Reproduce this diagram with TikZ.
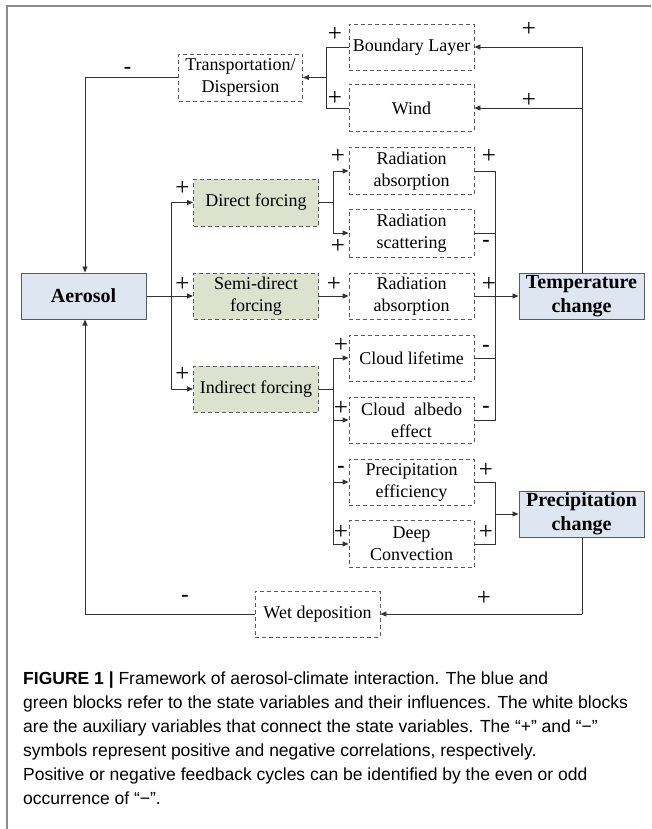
\documentclass[tikz,border=0pt]{standalone}
\usepackage{fontspec}
\setmainfont{Liberation Serif}
\newfontfamily\diafont{Liberation Serif}
\newfontfamily\capfont{Liberation Sans}
\usetikzlibrary{arrows.meta}
\definecolor{greenfill}{RGB}{220,226,206}
\definecolor{bluefill}{RGB}{222,230,241}
\definecolor{boxline}{RGB}{90,90,90}
\definecolor{conn}{RGB}{50,50,50}
\definecolor{framec}{RGB}{140,140,140}
\tikzset{
  base/.style={rectangle, minimum width=125pt, minimum height=46pt, inner sep=0pt, align=center,
    font=\diafont\fontsize{18}{22}\selectfont},
  aux/.style={base, draw=boxline, dash pattern=on 4pt off 3pt, line width=0.9pt, fill=white},
  infl/.style={aux, fill=greenfill},
  state/.style={base, draw=boxline, line width=1pt, fill=bluefill, font=\diafont\fontsize{20}{24}\selectfont\bfseries},
  wire/.style={draw=conn, line width=0.9pt},
  arr/.style={wire, -{Triangle[length=6pt,width=5pt]}},
  sgn/.style={inner sep=0pt, font=\diafont\fontsize{25}{25}\selectfont},
  mns/.style={inner sep=0pt, font=\diafont\fontsize{22}{22}\selectfont\bfseries},
  capline/.style={anchor=base west, inner sep=0pt, font=\capfont\fontsize{17.5}{24}\selectfont}
}
\begin{document}
\begin{tikzpicture}[x=1pt,y=-1pt]
\useasboundingbox (0,0) rectangle (651,829);
\draw[framec, line width=1.5pt] (7,829) -- (7,6) -- (651,6);

% nodes
\node[aux] (bl) at (411.5,47) {Boundary Layer};
\node[aux, minimum height=47pt] (wind) at (411.5,108) {Wind};
\node[aux, minimum width=124pt, minimum height=47pt] (trans) at (240.5,77.5) {Transportation/\\Dispersion};
\node[aux, minimum height=47pt] (ra1) at (411.5,171) {Radiation\\absorption};
\node[infl, minimum height=47pt] (df) at (256,202.5) {Direct forcing};
\node[aux, minimum height=48pt] (rs) at (411.5,233) {Radiation\\scattering};
\node[state] (aer) at (83.5,296) {Aerosol};
\node[infl] (sd) at (256,296) {Semi-direct\\forcing};
\node[aux] (ra2) at (411.5,296) {Radiation\\absorption};
\node[state] (temp) at (581.5,296) {Temperature\\change};
\node[aux] (cl) at (411.5,358) {Cloud lifetime};
\node[infl] (if) at (256,389) {Indirect forcing};
\node[aux] (ca) at (411.5,420) {Cloud~~albedo\\effect};
\node[aux] (pe) at (411.5,482) {Precipitation\\efficiency};
\node[state] (prec) at (581.5,514) {Precipitation\\change};
\node[aux, minimum height=47pt] (dc) at (411.5,544) {Deep\\Convection};
\node[aux] (wd) at (317.5,614) {Wet deposition};

% coordinates
\coordinate (tl) at (85,77.5);
\coordinate (tj) at (326,77.5);
\coordinate (bj) at (326,47);
\coordinate (wj) at (326,108);
\coordinate (rt1) at (582,47);
\coordinate (rt2) at (582,108);
\coordinate (ax1) at (171,202.5);
\coordinate (ax2) at (171,389);
\coordinate (dj) at (333,202.5);
\coordinate (dj1) at (333,171);
\coordinate (dj2) at (333,233);
\coordinate (ij) at (333,389);
\coordinate (ij1) at (333,358);
\coordinate (ij2) at (333,420);
\coordinate (ij3) at (333,482);
\coordinate (ij4) at (333,544);
\coordinate (tj1) at (495,171);
\coordinate (tj2) at (495,233);
\coordinate (tj3) at (495,358);
\coordinate (tj4) at (495,420);
\coordinate (pj1) at (495,482);
\coordinate (pj2) at (495,544);
\coordinate (pjm) at (495,514);
\coordinate (pb) at (582,614);
\coordinate (wl) at (85,614);

% connectors
\draw[arr] (trans.west) -- (tl) -- (aer.north -| tl);
\draw[wire] (bl.west) -- (bj) -- (wj) -- (wind.west);
\draw[arr] (tj) -- (trans.east);
\draw[wire] (temp.north -| rt1) -- (rt1);
\draw[arr] (rt1) -- (bl.east);
\draw[arr] (rt2) -- (wind.east);
\draw[arr] (aer.east) -- (sd.west);
\draw[wire] (ax1) -- (ax2);
\draw[arr] (ax1) -- (df.west);
\draw[arr] (ax2) -- (if.west);
\draw[wire] (df.east) -- (dj);
\draw[wire] (dj1) -- (dj2);
\draw[arr] (dj1) -- (ra1.west);
\draw[arr] (dj2) -- (rs.west);
\draw[arr] (sd.east) -- (ra2.west);
\draw[arr] (ra2.east) -- (temp.west);
\draw[wire] (ra1.east) -- (tj1) -- (tj4) -- (ca.east);
\draw[wire] (rs.east) -- (tj2);
\draw[wire] (cl.east) -- (tj3);
\draw[wire] (if.east) -- (ij);
\draw[wire] (ij1) -- (ij4);
\draw[arr] (ij1) -- (cl.west);
\draw[arr] (ij2) -- (ca.west);
\draw[arr] (ij3) -- (pe.west);
\draw[arr] (ij4) -- (dc.west);
\draw[wire] (pe.east) -- (pj1) -- (pj2) -- (dc.east);
\draw[arr] (pjm) -- (prec.west);
\draw[wire] (prec.south -| pb) -- (pb);
\draw[arr] (pb) -- (wd.east);
\draw[arr] (wd.west) -- (wl) -- (aer.south -| wl);

% signs
\node[mns] (s1) at (127.5,70) {-};
\node[sgn] (s2) at (335,34) {+};
\node[sgn] (s3) at (335,98) {+};
\node[sgn] (s4) at (529,29) {+};
\node[sgn] (s5) at (529,100) {+};
\node[sgn] (s6) at (338,156) {+};
\node[sgn] (s7) at (489,156) {+};
\node[sgn] (s8) at (182.5,188) {+};
\node[sgn] (s9) at (338,246) {+};
\node[mns] (s10) at (486,243) {-};
\node[sgn] (s11) at (182.5,284) {+};
\node[sgn] (s12) at (334,284) {+};
\node[sgn] (s13) at (489,284) {+};
\node[sgn] (s14) at (341,345) {+};
\node[mns] (s15) at (486,348) {-};
\node[sgn] (s16) at (182.5,374) {+};
\node[sgn] (s17) at (341,408) {+};
\node[mns] (s18) at (486,409) {-};
\node[mns] (s19) at (341,469) {-};
\node[sgn] (s20) at (486,470) {+};
\node[sgn] (s21) at (341,532) {+};
\node[sgn] (s22) at (486,532) {+};
\node[sgn] (s23) at (484,598) {+};
\node[mns] (s24) at (185,598) {-};

% caption
\node[capline] (c1) at (23,684) {\textbf{FIGURE 1 |} Framework of aerosol-climate interaction. The blue and};
\node[capline] (c2) at (23,708) {green blocks refer to the state variables and their influences. The white blocks};
\node[capline] (c3) at (23,732) {are the auxiliary variables that connect the state variables. The “+” and “−”};
\node[capline] (c4) at (23,756) {symbols represent positive and negative correlations, respectively.};
\node[capline] (c5) at (23,780) {Positive or negative feedback cycles can be identified by the even or odd};
\node[capline] (c6) at (23,804) {occurrence of “−”.};
\end{tikzpicture}
\end{document}
